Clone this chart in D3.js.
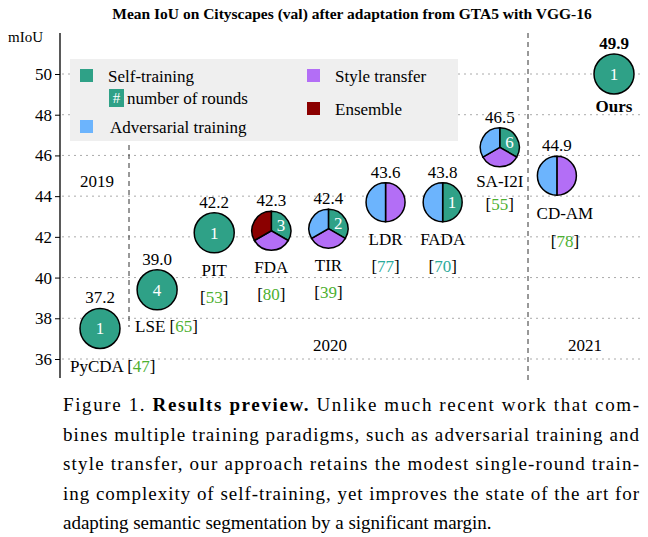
<!DOCTYPE html><html><head><meta charset="utf-8">
<script src="https://cdn.jsdelivr.net/npm/d3@7"></script>
<style>body{margin:0;background:#fff}svg text{font-family:"Times New Roman","Liberation Serif",Tinos,Times,serif !important}</style></head>
<body><svg id="c" width="648" height="537"></svg>
<script>
const names=["PyCDA","LSE","PIT","FDA","TIR","LDR","FADA","SA-I2I","CD-AM","Ours"];
const refs=["47","65","53","80","39","77","70","55","78",""];
const values=[37.2,39.0,42.2,42.3,42.4,43.6,43.8,46.5,44.9,49.9];
const positions=[37.5,39.4,42.2,42.3,42.4,43.7,43.7,46.4,45.0,50.0];
const rounds=[1,4,1,3,2,0,1,6,0,1];
const methods=[["S"],["S"],["S"],["S","T","E"],["S","T","A"],["T","A"],["S","A"],["S","T","A"],["T","A"],["S"]];
const yTicks=[36,38,40,42,44,46,48,50];
const years=["2019","2020","2021"];
const colors={S:"#2fa187",A:"#6cb4fd",T:"#b36ef6",E:"#8b0000"};
const svg=d3.select("#c");
const y=d3.scaleLinear().domain([36,50]).range([359,74]);
const x=d3.scalePoint().domain(names).range([100,614]);
svg.append("text").attr("x",352).attr("y",19).attr("text-anchor","middle").attr("font-weight","bold").attr("font-size",15.5).text("Mean IoU on Cityscapes (val) after adaptation from GTA5 with VGG-16");
svg.selectAll(".g").data(yTicks).enter().append("line").attr("x1",62).attr("x2",640).attr("y1",d=>y(d)).attr("y2",d=>y(d)).attr("stroke","#aaa").attr("stroke-dasharray","2,4");
const lg=svg.append("g");
lg.append("rect").attr("x",70).attr("y",59).attr("width",388).attr("height",82).attr("fill","#efefef");
const leg=[["S","Self-training",80,76,108],["A","Adversarial training",80,127,110],["T","Style transfer",307,76,335],["E","Ensemble",307,109,335]];
leg.forEach(l=>{lg.append("rect").attr("x",l[2]).attr("y",l[3]-7).attr("width",13).attr("height",13).attr("fill",colors[l[0]]);
lg.append("text").attr("x",l[4]).attr("y",l[3]+6).attr("font-size",17).text(l[1]);});
lg.append("rect").attr("x",109).attr("y",89).attr("width",15).attr("height",18).attr("fill",colors.S);
lg.append("text").attr("x",116.5).attr("y",103).attr("text-anchor","middle").attr("font-size",15).attr("fill","#fff").text("#");
lg.append("text").attr("x",127).attr("y",104).attr("font-size",17).text("number of rounds");
const ax=svg.append("g").attr("transform","translate(60,0)").call(d3.axisLeft(y).tickValues(yTicks).tickSize(5).tickSizeOuter(0));
ax.select(".domain").remove();
ax.attr("font-family",null);
ax.selectAll("text").attr("font-size",17).attr("fill","#000");
svg.append("line").attr("x1",60).attr("x2",60).attr("y1",33).attr("y2",378).attr("stroke","#000").attr("stroke-width",1.3);
svg.append("text").attr("x",8).attr("y",42).attr("font-size",15).text("mIoU");
svg.append("line").attr("x1",129).attr("x2",129).attr("y1",145).attr("y2",327).attr("stroke","#333").attr("stroke-dasharray","5,4");
svg.append("line").attr("x1",528).attr("x2",528).attr("y1",33).attr("y2",380).attr("stroke","#333").attr("stroke-dasharray","5,4");
[[97,187],[330,351],[585,351]].forEach((p,i)=>svg.append("text").attr("x",p[0]).attr("y",p[1]).attr("text-anchor","middle").attr("font-size",17).text(years[i]));
names.forEach((n,i)=>{
  const cx=x(n),cy=y(positions[i]),m=methods[i],r=m.length===1?20:19.5;
  const g=svg.append("g").attr("transform",`translate(${cx},${cy})`);
  if(m.length===1){g.append("circle").attr("r",r).attr("fill",colors[m[0]]).attr("stroke","#000").attr("stroke-width",1.5);}
  else{
    let comps;
    if(m.length===3) comps=["S","T",m.includes("E")?"E":"A"]; else comps=m.includes("S")?["S","A"]:["T","A"];
    const pie=d3.pie().sort(null).value(1)(comps);
    const arc=d3.arc().innerRadius(0).outerRadius(r);
    g.selectAll("path").data(pie).enter().append("path").attr("d",arc).attr("fill",d=>colors[d.data]).attr("stroke","#000").attr("stroke-width",1.5);
  }
  if(m.includes("S")){
    let tx=0,ty=0; if(m.length===2){tx=r*0.48;} if(m.length===3){tx=r*0.5;ty=-r*0.28;}
    g.append("text").attr("x",tx).attr("y",ty+6).attr("text-anchor","middle").attr("fill","#fff").attr("font-size",17).text(rounds[i]);
  }
  const bold=n==="Ours";
  g.append("text").attr("y",-r-5).attr("text-anchor","middle").attr("font-size",17).attr("font-weight",bold?"bold":null).text(values[i].toFixed(1));
  if(bold){g.append("text").attr("y",r+18).attr("text-anchor","middle").attr("font-size",17).attr("font-weight","bold").text(n);return;}
  const refColor=(n==="LDR"||n==="FADA")?"#2aaa9a":"#4db030";
  const addRef=(t,xx,yy,anchor)=>t.append("text").attr("x",xx).attr("y",yy).attr("text-anchor",anchor).attr("font-size",17);
  if(n==="PyCDA"||n==="LSE"){
    const tt=n==="PyCDA"?addRef(g,-30,r+24,"start"):addRef(g,-22,r+22,"start");
    tt.append("tspan").text(n+" [");tt.append("tspan").attr("fill",refColor).text(refs[i]);tt.append("tspan").text("]");
  } else {
    let d1=r+23,d2=r+50;
    if(n==="SA-I2I"){d1=r+20;d2=r+43;}
    if(n==="CD-AM"){d1=r+24;d2=r+52;}
    const gx=n==="CD-AM"?8:0;
    g.append("text").attr("x",gx).attr("y",d1).attr("text-anchor","middle").attr("font-size",17).text(n);
    const tt=addRef(g,gx,d2,"middle");tt.append("tspan").text("[");tt.append("tspan").attr("fill",refColor).text(refs[i]);tt.append("tspan").text("]");
  }
});
const cap=[["Figure 1. ",["Results preview."]," Unlike much recent work that com-"],
"bines multiple training paradigms, such as adversarial training and",
"style transfer, our approach retains the modest single-round train-",
"ing complexity of self-training, yet improves the state of the art for",
"adapting semantic segmentation by a significant margin."];
cap.forEach((c,i)=>{
  const t=svg.append("text").attr("x",63).attr("y",411+i*29.5).attr("font-size",19);
  if(Array.isArray(c)){t.append("tspan").text(c[0]);t.append("tspan").attr("font-weight","bold").text(c[1][0]);t.append("tspan").text(c[2]);}
  else t.text(c);
  if(i<4) t.attr("textLength",576).attr("lengthAdjust","spacing");
});
</script></body></html>
